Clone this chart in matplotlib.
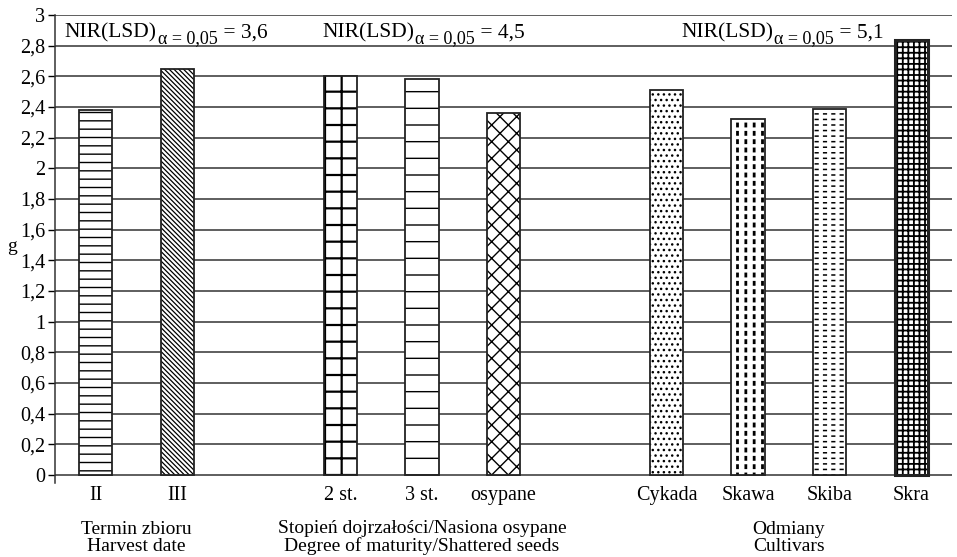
import numpy as np
import matplotlib
matplotlib.use('Agg')
import matplotlib.pyplot as plt

plt.rcParams['font.family'] = ['Liberation Serif', 'DejaVu Serif']
plt.rcParams['hatch.linewidth'] = 1.0

# Dane
grupa_nazwy = ['Termin zbioru\nHarvest date',
               'Stopień dojrzałości/Nasiona osypane\nDegree of maturity/Shattered seeds',
               'Odmiany\nCultivars']
termin = ['II', 'III']
termin_val = [2.38, 2.65]
stopien = ['2 st.', '3 st.', 'osypane']
stopien_val = [2.60, 2.58, 2.36]
odmiany = ['Cykada', 'Skawa', 'Skiba', 'Skra']
odmiany_val = [2.51, 2.32, 2.39, 2.84]
nir = ['3,6', '4,5', '5,1']

grupy = [termin, stopien, odmiany]
wartosci = [termin_val, stopien_val, odmiany_val]

# wzory: (kreskowanie, grubosc, nakladka biala, grubosc nakladki)
wzory = {'II': ('--', 1.0, None, 0), 'III': ('\\' * 7, 0.9, None, 0),
         '2 st.': ('+', 1.6, None, 0), '3 st.': ('-', 1.0, None, 0),
         'osypane': ('xx', 1.0, None, 0), 'Cykada': ('...', 1.0, None, 0),
         'Skawa': ('||', 2.0, '--', 2.5), 'Skiba': ('---', 1.1, '||', 3.0),
         'Skra': ('+++', 1.3, None, 0)}

fig = plt.figure(figsize=(9.57, 5.57), dpi=100)
ax = fig.add_axes([55 / 957, 1 - 483 / 557, 897 / 957, 468 / 557])

fs = 14.5
pos = 0
etykiety = []
pozycje = []
srodki = []
for g, (kat, val) in enumerate(zip(grupy, wartosci)):
    x = np.arange(pos, pos + len(kat))
    srodki.append(x.mean())
    for xi, k, v in zip(x, kat, val):
        h, hlw, biala, blw = wzory[k]
        b = ax.bar(xi, v, width=0.41, color='white', edgecolor='black',
                   hatch=h, linewidth=0, zorder=2)
        for p in b:
            if hasattr(p, 'set_hatch_linewidth'):
                p.set_hatch_linewidth(hlw)
        if biala is not None:
            b = ax.bar(xi, v, width=0.41, color='none', edgecolor='white',
                       hatch=biala, linewidth=0, zorder=3)
            for p in b:
                if hasattr(p, 'set_hatch_linewidth'):
                    p.set_hatch_linewidth(blw)
        lw = 2.2 if k == 'Skra' else 1.3
        ax.bar(xi, v, width=0.41, color='none', edgecolor='#222222',
               linewidth=lw, zorder=4)
        etykiety.append(k)
        pozycje.append(xi)
    pos += len(kat) + 1

ax.set_xlim(-0.5, 10.5)
ax.set_ylim(-0.052, 3)
yt = np.round(np.arange(0, 3.01, 0.2), 1)
ax.set_yticks(yt)
ax.set_yticklabels([('%g' % t).replace('.', ',') for t in yt], fontsize=fs)
for t in yt:
    ax.axhline(t, color='#333333', linewidth=1.1, zorder=1)
ax.set_xticks(pozycje)
ax.set_xticklabels(etykiety, fontsize=fs)
ax.tick_params(axis='x', length=0, pad=2)
ax.tick_params(axis='y', length=5, width=1, direction='out', pad=2)
for s in ['top', 'right', 'bottom']:
    ax.spines[s].set_visible(False)
ax.spines['left'].set_linewidth(1.1)
ax.spines['left'].set_color('#333333')
ax.set_ylabel('g', fontsize=14, rotation=0, va='center', ha='center')
ax.yaxis.set_label_coords(-0.048, 0.505)

for sx, nazwa in zip(srodki, grupa_nazwy):
    ax.text(sx, -0.41, nazwa, ha='center', va='center', fontsize=14,
            linespacing=1.0, clip_on=False)

# NIR: tekst + indeks dolny + wartosc
renderer = fig.canvas.get_renderer()
nir_x = [0.011, 0.2977, 0.698]
tr = ax.get_yaxis_transform()
for nx, n in zip(nir_x, nir):
    t1 = ax.text(nx, 2.855, 'NIR(LSD)', transform=tr, ha='left',
                 va='baseline', fontsize=15.5)
    w1 = t1.get_window_extent(renderer).width * 72 / fig.dpi
    t2 = ax.annotate('α = 0,05', xy=(nx, 2.855), xycoords=tr,
                     xytext=(w1 + 1, -4.5), textcoords='offset points',
                     ha='left', va='baseline', fontsize=13)
    w2 = t2.get_window_extent(renderer).width * 72 / fig.dpi
    ax.annotate(' = ' + n, xy=(nx, 2.855), xycoords=tr,
                xytext=(w1 + w2 + 1, 0), textcoords='offset points',
                ha='left', va='baseline', fontsize=15.5)

fig.savefig('out.png', dpi=100)
